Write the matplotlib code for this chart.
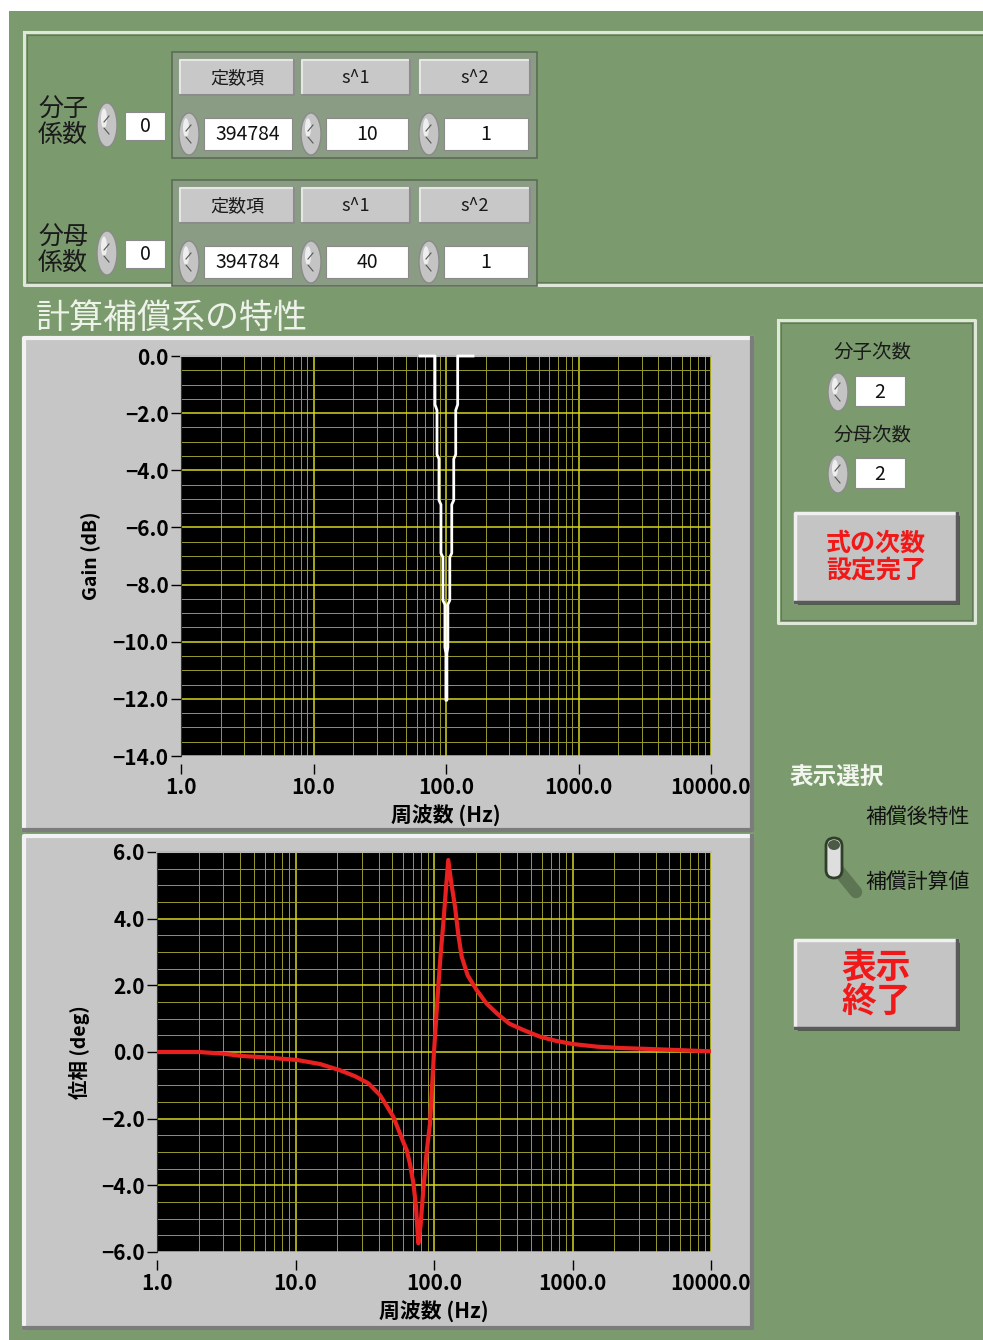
import matplotlib
matplotlib.use('Agg')
import matplotlib.pyplot as plt
import matplotlib.ticker as mticker
from matplotlib.patches import Rectangle, Ellipse, FancyBboxPatch

plt.rcParams['font.family'] = ['Noto Sans CJK JP', 'DejaVu Sans']
plt.rcParams['font.weight'] = 'bold'

# 係数 (transfer function coefficients shown on the panel)
coef_headers = ['定数項', 's^1', 's^2']
numerator_coefs = ['394784', '10', '1']
denominator_coefs = ['394784', '40', '1']
numerator_index = '0'
denominator_index = '0'
numerator_order = '2'
denominator_order = '2'

freq_ticks = [1, 10, 100, 1000, 10000]

# ゲイン特性
gain_freq = [63.7, 82.6, 82.6, 85.5, 85.5, 88.5, 88.5, 91.6, 91.6, 94.8, 94.8,
             98.1, 98.1, 99.8, 99.8, 101.6, 101.6, 103.3, 103.3, 106.8, 106.8,
             110.5, 110.5, 114.4, 114.4, 118.4, 118.4, 122.5, 122.5, 160.0]
gain_db = [0.0, 0.0, -1.7, -1.9, -3.45, -3.6, -5.05, -5.2, -6.9, -7.05, -8.55,
           -8.7, -10.2, -10.4, -12.05, -12.05, -10.4, -10.2, -8.7, -8.55, -7.05,
           -6.9, -5.2, -5.05, -3.6, -3.45, -1.9, -1.7, 0.0, 0.0]

# 位相特性
phase_freq = [1.0, 2.0, 3.0, 4.1, 6.0, 10.3, 15.0, 20.7, 27.0, 33.6, 40.7, 45.0,
              50.8, 55.0, 60.0, 63.5, 67.0, 71.0, 74.0, 77.1, 80.0, 83.7, 88.0,
              93.6, 100.0, 107.4, 112.0, 116.8, 122.0, 126.8, 133.0, 141.8,
              150.0, 158.5, 175.0, 203.0, 240.0, 284.0, 350.0, 442.0, 582.0,
              750.0, 1000.0, 1500.0, 2200.0, 3660.0, 10000.0]
phase_deg = [0.0, 0.0, -0.05, -0.12, -0.16, -0.24, -0.36, -0.54, -0.73, -0.94,
             -1.29, -1.58, -1.94, -2.3, -2.7, -2.94, -3.35, -3.94, -4.6, -5.74,
             -5.2, -4.14, -3.1, -2.14, 0.0, 1.96, 3.0, 3.86, 4.9, 5.76, 5.1,
             4.36, 3.5, 2.86, 2.3, 1.86, 1.45, 1.16, 0.85, 0.66, 0.46, 0.34,
             0.24, 0.16, 0.12, 0.09, 0.02]

W, H = 983, 1340
fig = plt.figure(figsize=(W / 100, H / 100), dpi=100)
fig.patch.set_facecolor('white')

bg = fig.add_axes([0, 0, 1, 1])
bg.set_xlim(0, W)
bg.set_ylim(H, 0)
bg.axis('off')

GREEN = '#7b9a6e'
PANEL = '#c6c6c6'


def rect(x0, y0, x1, y1, fc, ec='none', lw=0, z=1):
    bg.add_patch(Rectangle((x0, y0), x1 - x0, y1 - y0, facecolor=fc,
                           edgecolor=ec, linewidth=lw, zorder=z))


def bevel(x0, y0, x1, y1, fc, light='#eeeeee', dark='#7a7a7a', lw=2.0, z=1):
    rect(x0, y0, x1, y1, fc, z=z)
    bg.plot([x0, x0, x1], [y1, y0, y0], color=light, lw=lw, zorder=z + 0.1)
    bg.plot([x0, x1, x1], [y1, y1, y0], color=dark, lw=lw, zorder=z + 0.1)


def frame(x0, y0, x1, y1):
    bg.plot([x0, x1, x1, x0, x0], [y0, y0, y1, y1, y0], color='#dfe8d8', lw=2.2, zorder=2)
    bg.plot([x0 + 3, x1 - 3, x1 - 3, x0 + 3, x0 + 3],
            [y0 + 3, y0 + 3, y1 - 3, y1 - 3, y0 + 3], color='#5f7a55', lw=0.8, zorder=2)


def spinner(cx, cy, h=40):
    bg.add_patch(Ellipse((cx, cy), 20, h, facecolor='#c4c4c4', edgecolor='#8a8a8a',
                         linewidth=1, zorder=3))
    bg.add_patch(Ellipse((cx - 3, cy - h * 0.15), 6, h * 0.45, facecolor='#eeeeee',
                         edgecolor='none', zorder=3.1))
    bg.plot([cx - 3, cx + 2], [cy - 3, cy - 9], color='#555555', lw=0.8, zorder=3.2)
    bg.plot([cx - 3, cx + 2], [cy + 3, cy + 9], color='#555555', lw=0.8, zorder=3.2)


def numbox(x0, y0, x1, y1, txt, ha='center'):
    rect(x0, y0, x1, y1, 'white', ec='#8a8a8a', lw=0.8, z=3)
    tx = (x0 + x1) / 2 if ha == 'center' else x0 + 6
    bg.text(tx, (y0 + y1) / 2 + 1, txt, ha=ha, va='center', fontsize=14,
            weight='normal', color='#111111', zorder=4)


# panel background
rect(9, 11, W, H, GREEN, z=0)

# 係数 cluster
frame(24, 32, W + 5, 285)
for lab, idx, coefs, y0 in [(('分子', '係数'), numerator_index, numerator_coefs, 52),
                            (('分母', '係数'), denominator_index, denominator_coefs, 180)]:
    bg.text(63, y0 + 58, lab[0], ha='center', va='center', fontsize=18,
            weight='normal', color='#1a1a1a')
    bg.text(63, y0 + 83, lab[1], ha='center', va='center', fontsize=18,
            weight='normal', color='#1a1a1a')
    spinner(107, y0 + 73, 44)
    numbox(125, y0 + 60, 165, y0 + 88, idx)
    rect(172, y0, 537, y0 + 106, '#8b9c84', ec='#5c6d56', lw=1.2, z=2)
    cells = [(180, 294), (302, 410), (420, 530)]
    for (cx0, cx1), hdr, val in zip(cells, coef_headers, coefs):
        bevel(cx0, y0 + 8, cx1, y0 + 43, '#c8c8c8', light='#e6e6e6', dark='#8c8c8c', lw=1.5, z=2.5)
        bg.text((cx0 + cx1) / 2, y0 + 26, hdr, ha='center', va='center', fontsize=13,
                weight='normal', color='#1a1a1a', zorder=4)
        spinner(cx0 + 9, y0 + 82, 42)
        numbox(cx0 + 24, y0 + 66, cx1 - 2, y0 + 98, val)

# title
bg.text(36, 318, '計算補償系の特性', ha='left', va='center', fontsize=24.5,
        weight='normal', color='#eef3ea')

# graph panels
bevel(24, 338, 752, 830, PANEL, light='#f2f2f2', dark='#7c7c7c', lw=3)
bevel(24, 836, 752, 1328, PANEL, light='#f2f2f2', dark='#7c7c7c', lw=3)


def px_axes(x0, y0, x1, y1):
    return fig.add_axes([x0 / W, 1 - y1 / H, (x1 - x0) / W, (y1 - y0) / H])


def minus_fmt(v, pos):
    return f'{v:.1f}'.replace('-', '\u2212')


def style_graph(ax, ymin, ymax, ylabel):
    ax.set_facecolor('black')
    ax.set_xscale('log')
    ax.set_xlim(1, 10000)
    ax.set_ylim(ymin, ymax)
    ax.xaxis.set_major_locator(mticker.FixedLocator(freq_ticks))
    ax.xaxis.set_major_formatter(mticker.FuncFormatter(minus_fmt))
    ax.xaxis.set_minor_locator(mticker.LogLocator(base=10, subs=range(2, 10), numticks=100))
    ax.xaxis.set_minor_formatter(mticker.NullFormatter())
    ax.yaxis.set_major_locator(mticker.MultipleLocator(2))
    ax.yaxis.set_minor_locator(mticker.MultipleLocator(0.5))
    ax.yaxis.set_major_formatter(mticker.FuncFormatter(minus_fmt))
    ax.grid(which='major', color='#d6d622', lw=1.1)
    ax.grid(which='minor', color='#9a9a30', lw=0.7)
    ax.tick_params(which='minor', length=0)
    ax.tick_params(which='major', length=7, width=1, color='black', labelsize=15, pad=2)
    ax.spines['bottom'].set_position(('outward', 6))
    ax.spines['bottom'].set_visible(False)
    ax.spines['right'].set_visible(False)
    ax.spines['top'].set_color('#b8b8b8')
    ax.spines['top'].set_linewidth(1.5)
    ax.spines['left'].set_color('#333333')
    ax.set_xlabel('周波数 (Hz)', fontsize=15, fontweight='bold', labelpad=5)
    ax.set_ylabel(ylabel, fontsize=14, fontweight='bold', labelpad=8)


ax_gain = px_axes(181, 356, 711, 756)
style_graph(ax_gain, -14, 0, 'Gain (dB)')
ax_gain.plot(gain_freq, gain_db, color='white', lw=2.0, clip_on=False, zorder=3)

ax_phase = px_axes(157, 852, 711, 1252)
style_graph(ax_phase, -6, 6, '位相 (deg)')
ax_phase.plot(phase_freq, phase_deg, color='#e82020', lw=3.0, zorder=3,
              solid_joinstyle='round')

# 次数 frame
frame(778, 320, 975, 623)
bg.text(873, 352, '分子次数', ha='center', va='center', fontsize=14, weight='normal', color='#1a1a1a')
spinner(838, 392, 38)
numbox(855, 376, 905, 406, numerator_order)
bg.text(873, 435, '分母次数', ha='center', va='center', fontsize=14, weight='normal', color='#1a1a1a')
spinner(838, 474, 38)
numbox(855, 458, 905, 488, denominator_order)


def button(x0, y0, x1, y1, lines, fs, spacing):
    bg.add_patch(Rectangle((x0 + 3, y0 + 3), x1 - x0, y1 - y0, facecolor='#4d5d47', zorder=2))
    bevel(x0, y0, x1, y1, '#c4c4c4', light='#f0f0f0', dark='#5a5a5a', lw=2.5, z=2.5)
    cy = (y0 + y1) / 2
    n = len(lines)
    for i, t in enumerate(lines):
        bg.text((x0 + x1) / 2, cy + (i - (n - 1) / 2) * spacing, t, ha='center', va='center',
                fontsize=fs, color='#f01818', weight='bold', zorder=4)


button(795, 513, 957, 602, ['式の次数', '設定完了'], 18, 27)

# 表示選択
bg.text(790, 777, '表示選択', ha='left', va='center', fontsize=17, color='#f2f6ee')
bg.text(865, 817, '補償後特性', ha='left', va='center', fontsize=15, weight='normal', color='#111111')
bg.text(865, 882, '補償計算値', ha='left', va='center', fontsize=15, weight='normal', color='#111111')
bg.plot([838, 856], [870, 892], color='#5d7552', lw=9, solid_capstyle='round', zorder=2)
bg.add_patch(FancyBboxPatch((826, 838), 16, 40, boxstyle='round,pad=0,rounding_size=8',
                            facecolor='#dedede', edgecolor='#2f3f2a', linewidth=2, zorder=3))
bg.add_patch(Ellipse((834, 845), 12, 10, facecolor='#4a5a44', edgecolor='none', zorder=3.1))

button(795, 940, 957, 1028, ['表示', '終了'], 25, 34)

fig.savefig('out.png', dpi=100, facecolor=fig.get_facecolor())
